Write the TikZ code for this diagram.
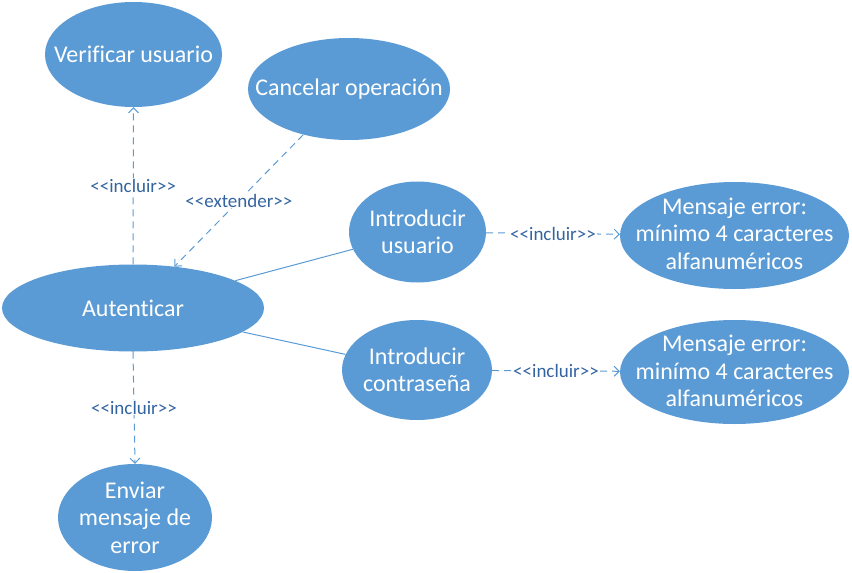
\documentclass[tikz,border=0pt]{standalone}
\usepackage{fontspec}
\setmainfont{Carlito}[Ligatures={TeXOff,NoCommon}]
\usetikzlibrary{shapes.geometric,arrows.meta}
\definecolor{ucblue}{RGB}{91,155,213}
\definecolor{lblblue}{RGB}{52,100,160}
\tikzset{
usecase/.style 2 args={shape=ellipse,fill=ucblue,inner sep=0pt,minimum width=#1,minimum height=#2},
uctext/.style={text=white,align=center,font=\fontsize{24}{27.5}\selectfont},
assoc/.style={draw=ucblue,line width=1pt},
depend/.style={assoc,dash pattern=on 7pt off 5pt,-{Straight Barb[length=5pt,width=10pt]}},
stereo/.style={fill=white,text=lblblue,inner sep=1pt,font=\fontsize{19}{22}\selectfont}
}

\begin{document}
\begin{tikzpicture}
[x=1pt,y=-1pt]
\useasboundingbox (0,0) rectangle (852,573);
\node[usecase={177}{105},label={[uctext]center:Verificar usuario}] (verificar) at (133.5,54.5) {};
\node[usecase={202}{102},label={[uctext]center:Cancelar operación}] (cancelar) at (349,89) {};
\node[usecase={262}{87},label={[uctext]center:Autenticar}] (autenticar) at (133,308) {};
\node[usecase={137}{101},label={[uctext]center:{Introducir\\usuario}}] (intro usuario) at (417.5,232) {};
\node[usecase={150}{100},label={[uctext]center:{Introducir\\contraseña}}] (intro clave) at (417,370) {};
\node[usecase={229}{107},label={[uctext,yshift=2]center:{Mensaje error:\\mínimo 4 caracteres\\alfanuméricos}}] (error usuario) at (734.5,235.5) {};
\node[usecase={229}{104},label={[uctext,yshift=1]center:{Mensaje error:\\minímo 4 caracteres\\alfanuméricos}}] (error clave) at (734.5,372) {};
\node[usecase={154}{107},label={[uctext]center:{Enviar\\mensaje de\\error}}] (enviar) at (135,517.5) {};

\draw[depend] (autenticar.north) -- node[stereo] {<<incluir>>} (verificar.south);
\draw[depend] (cancelar.225) -- node[stereo] {<<extender>>} (autenticar.45);
\draw[assoc] (autenticar) -- (intro usuario);
\draw[assoc] (autenticar) -- (intro clave);
\draw[depend] (intro usuario) -- node[stereo] {<<incluir>>} (error usuario);
\draw[depend] (intro clave) -- node[stereo] {<<incluir>>} (error clave);
\draw[depend] (autenticar.south) -- node[stereo] {<<incluir>>} (enviar.north);
\end{tikzpicture}
\end{document}
